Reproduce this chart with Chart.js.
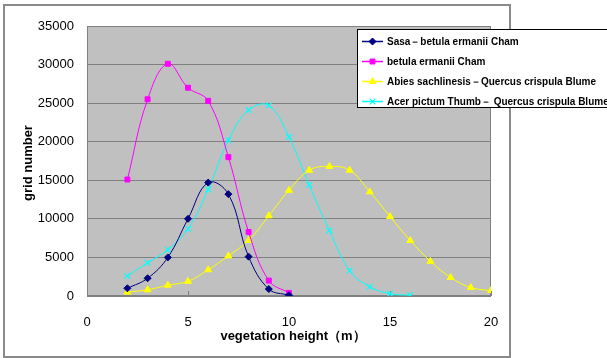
<!DOCTYPE html>
<html><head><meta charset="utf-8">
<script src="https://cdn.jsdelivr.net/npm/chart.js@4/dist/chart.umd.min.js"></script>
<style>html,body{margin:0;padding:0;background:#fff}#wrap{width:607px;height:358px;position:relative}</style>
</head><body><div id="wrap"><canvas id="c" width="607" height="358"></canvas></div>
<script>
const seriesNames = ["Sasa－betula ermanii Cham", "betula ermanii Cham", "Abies sachlinesis－Quercus crispula Blume", "Acer pictum Thumb－ Quercus crispula Blume"];
const sasaX = [2,3,4,5,6,7,8,9,10];
const sasaY = [1000,2300,5000,10000,14700,13200,5100,900,100];
const betulaX = [2,3,4,5,6,7,8,9,10];
const betulaY = [15100,25500,30100,27000,25300,18000,8300,2000,400];
const abiesX = [2,3,4,5,6,7,8,9,10,11,12,13,14,15,16,17,18,19,20];
const abiesY = [500,800,1400,1900,3400,5200,7200,10400,13700,16300,16800,16300,13500,10300,7200,4500,2400,1100,700];
const acerX = [2,3,4,5,6,7,8,9,10,11,12,13,14,15,16];
const acerY = [2600,4300,6000,8700,13800,20200,24100,24700,20600,14400,8500,3300,1200,300,100];
const xTicks = [0,5,10,15,20];
const yTicks = [0,5000,10000,15000,20000,25000,30000,35000];
const xTitle = 'vegetation height（m）';
const yTitle = 'grid number';

const pts = (xs, ys) => xs.map((x,i)=>({x:x,y:ys[i]}));
const colors = ["#000080","#ff00ff","#ffff00","#00ffff"];
const styles = ["rectRot","rect","triangle","crossRot"];
const radii = [3.5,3.5,4,4];
const datasets = [pts(sasaX,sasaY),pts(betulaX,betulaY),pts(abiesX,abiesY),pts(acerX,acerY)].map((d,i)=>({
  label: seriesNames[i], data: d, borderColor: colors[i], backgroundColor: colors[i],
  borderWidth: 1, pointStyle: styles[i], pointRadius: radii[i], pointBorderWidth: i===3?1.2:1,
  pointBorderColor: colors[i], pointBackgroundColor: colors[i], tension: 0.4, showLine: true, fill: false
}));
const FONT = '"Liberation Sans", Arial, sans-serif';

const deco = {
  id: 'deco',
  beforeDraw(chart){
    const ctx = chart.ctx, a = chart.chartArea;
    ctx.save();
    ctx.fillStyle = '#fff'; ctx.fillRect(0,0,chart.width,chart.height);
    ctx.strokeStyle = '#8a8a8a'; ctx.lineWidth = 2;
    ctx.strokeRect(4,5,506,352);
    ctx.fillStyle = '#c0c0c0'; ctx.fillRect(a.left,a.top,a.right-a.left,a.bottom-a.top);
    ctx.restore();
  },
  beforeDatasetsDraw(chart){
    const ctx = chart.ctx, a = chart.chartArea, xs = chart.scales.x;
    ctx.save();
    ctx.strokeStyle = '#808080'; ctx.lineWidth = 1;
    ctx.strokeRect(a.left+0.5,a.top+0.5,a.right-a.left-1,a.bottom-a.top-1);
    ctx.beginPath();
    xTicks.forEach(v=>{ const px = Math.round(xs.getPixelForValue(v))+0.5; ctx.moveTo(px,a.bottom); ctx.lineTo(px,a.bottom-5); });
    ctx.stroke();
    ctx.restore();
  },
  afterDraw(chart){
    const ctx = chart.ctx, a = chart.chartArea;
    ctx.save();
    // axis titles
    ctx.fillStyle = '#000';
    ctx.font = 'bold 13px ' + FONT;
    ctx.textAlign = 'center'; ctx.textBaseline = 'middle';
    ctx.fillText(xTitle, 293, 336);
    ctx.save();
    ctx.translate(28, (a.top + a.bottom)/2 + 2);
    ctx.rotate(-Math.PI/2);
    ctx.fillText(yTitle, 0, 0);
    ctx.restore();
    // legend
    const L = 357, T = 29, B = 107;
    ctx.fillStyle = '#fff'; ctx.fillRect(L,T,700,B-T);
    ctx.strokeStyle = '#000'; ctx.lineWidth = 1;
    ctx.strokeRect(L+0.5,T+0.5,700,B-T);
    ctx.font = 'bold 10px ' + FONT;
    ctx.textBaseline = 'middle'; ctx.textAlign = 'left';
    chart.data.datasets.forEach((ds,i)=>{
      const y = 41 + i*20;
      ctx.strokeStyle = ds.borderColor; ctx.lineWidth = 1.5;
      ctx.beginPath(); ctx.moveTo(362,y+0.5); ctx.lineTo(383,y+0.5); ctx.stroke();
      ctx.fillStyle = ds.borderColor; ctx.strokeStyle = ds.borderColor; ctx.lineWidth = ds.pointBorderWidth;
      Chart.helpers.drawPoint(ctx,{pointStyle: ds.pointStyle, radius: ds.pointRadius, borderWidth: ds.pointBorderWidth}, 372.5, y+0.5);
      ctx.fillStyle = '#000';
      ctx.fillText(ds.label, 387, y+1);
    });
    ctx.restore();
  }
};

new Chart(document.getElementById('c'), {
  type: 'scatter',
  data: { datasets },
  options: {
    responsive: false, animation: false, devicePixelRatio: 1,
    layout: { padding: { left: 4, top: 26, right: 116, bottom: 2 } },
    plugins: { legend: { display: false }, tooltip: { enabled: false } },
    scales: {
      x: {
        type: 'linear', min: 0, max: 20,
        afterBuildTicks(s){ s.ticks = xTicks.map(v=>({value:v})); },
        afterFit(s){ s.height = 60; },
        grid: { display: false, drawTicks: false },
        border: { display: false },
        ticks: { padding: 19, color: '#000', font: { family: FONT, size: 13 }, maxRotation: 0 }
      },
      y: {
        min: 0, max: 35000,
        afterBuildTicks(s){ s.ticks = yTicks.map(v=>({value:v})); },
        afterFit(s){ s.width = 83; },
        grid: { color: '#808080', lineWidth: 1, drawTicks: false },
        border: { display: false },
        ticks: { padding: 13, color: '#000', font: { family: FONT, size: 13 }, callback: v => String(v) }
      }
    }
  },
  plugins: [deco]
});
</script></body></html>
